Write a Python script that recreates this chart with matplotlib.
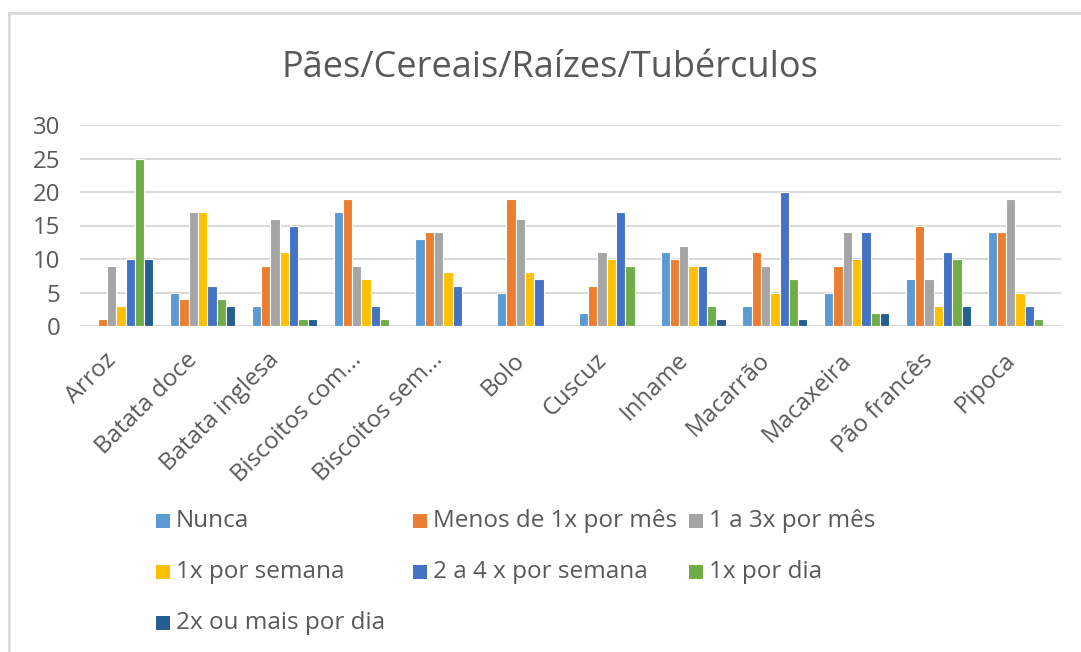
import matplotlib
matplotlib.use("Agg")
import matplotlib.pyplot as plt
import numpy as np
from matplotlib.patches import Rectangle
from matplotlib.lines import Line2D

plt.rcParams['font.family'] = ['Open Sans', 'DejaVu Sans']

title = "Pães/Cereais/Raízes/Tubérculos"
categories = ["Arroz", "Batata doce", "Batata inglesa", "Biscoitos com...",
              "Biscoitos sem...", "Bolo", "Cuscuz", "Inhame", "Macarrão",
              "Macaxeira", "Pão francês", "Pipoca"]
series_names = ["Nunca", "Menos de 1x por mês", "1 a 3x por mês",
                "1x por semana", "2 a 4 x por semana", "1x por dia",
                "2x ou mais por dia"]
nunca        = [0, 5, 3, 17, 13, 5, 2, 11, 3, 5, 7, 14]
menos_1x_mes = [1, 4, 9, 19, 14, 19, 6, 10, 11, 9, 15, 14]
um_a_3x_mes  = [9, 17, 16, 9, 14, 16, 11, 12, 9, 14, 7, 19]
um_x_semana  = [3, 17, 11, 7, 8, 8, 10, 9, 5, 10, 3, 5]
dois_a_4x_sem = [10, 6, 15, 3, 6, 7, 17, 9, 20, 14, 11, 3]
um_x_dia     = [25, 4, 1, 1, 0, 0, 9, 3, 7, 2, 10, 1]
dois_x_dia   = [10, 3, 1, 0, 0, 0, 0, 1, 1, 2, 3, 0]
series_values = [nunca, menos_1x_mes, um_a_3x_mes, um_x_semana,
                 dois_a_4x_sem, um_x_dia, dois_x_dia]
y_ticks = [0, 5, 10, 15, 20, 25, 30]
colors = ["#5B9BD5", "#ED7D31", "#A5A5A5", "#FFC000", "#4472C4", "#70AD47", "#255E91"]

W, H = 1081, 652
fig = plt.figure(figsize=(W / 100, H / 100), dpi=100)
ax = fig.add_axes([80 / W, 1 - 326 / H, (1061 - 80) / W, (326 - 125) / H])

text_color = "#595959"
grid_color = "#D9D9D9"

n = len(series_values)
x = np.arange(len(categories))
bw = 0.114
for i, (vals, c) in enumerate(zip(series_values, colors)):
    ax.bar(x + (i - (n - 1) / 2) * bw, vals, width=bw, color=c,
           edgecolor="white", linewidth=0.8, zorder=3)

ax.set_xlim(-0.5, len(categories) - 0.5)
ax.set_ylim(0, 30)
ax.set_yticks(y_ticks)
ax.set_yticklabels([str(t) for t in y_ticks])
ax.set_xticks(x)
ax.set_xticklabels(categories, rotation=45, ha="right", va="top")
ax.tick_params(axis="both", length=0, labelsize=17.3, colors=text_color)
ax.tick_params(axis="y", pad=14)
ax.tick_params(axis="x", pad=16)
ax.yaxis.grid(True, color=grid_color, linewidth=1.5, zorder=0)
ax.set_axisbelow(True)
for s in ax.spines.values():
    s.set_visible(False)

fig.text(550 / W, 1 - 77 / H, title, ha="center", va="baseline",
         fontsize=26, color=text_color)

# legend (row-major layout)
col_x = [156, 413, 689]
row_y = [521, 572, 623]
for i, (name, c) in enumerate(zip(series_names, colors)):
    r, k = divmod(i, 3)
    x0, yc = col_x[k], row_y[r]
    fig.patches.append(Rectangle((x0 / W, 1 - (yc + 7) / H), 14 / W, 14 / H,
                                 transform=fig.transFigure, facecolor=c,
                                 edgecolor="none"))
    fig.text((x0 + 20) / W, 1 - yc / H, name, ha="left", va="center",
             fontsize=17.5, color=text_color)

# chart border
fig.add_artist(Line2D([9 / W, 9 / W], [0, 1 - 13 / H], transform=fig.transFigure,
                      color=grid_color, linewidth=2))
fig.add_artist(Line2D([9 / W, 1], [1 - 13 / H, 1 - 13 / H], transform=fig.transFigure,
                      color=grid_color, linewidth=2))

fig.savefig("out.png", dpi=100)
